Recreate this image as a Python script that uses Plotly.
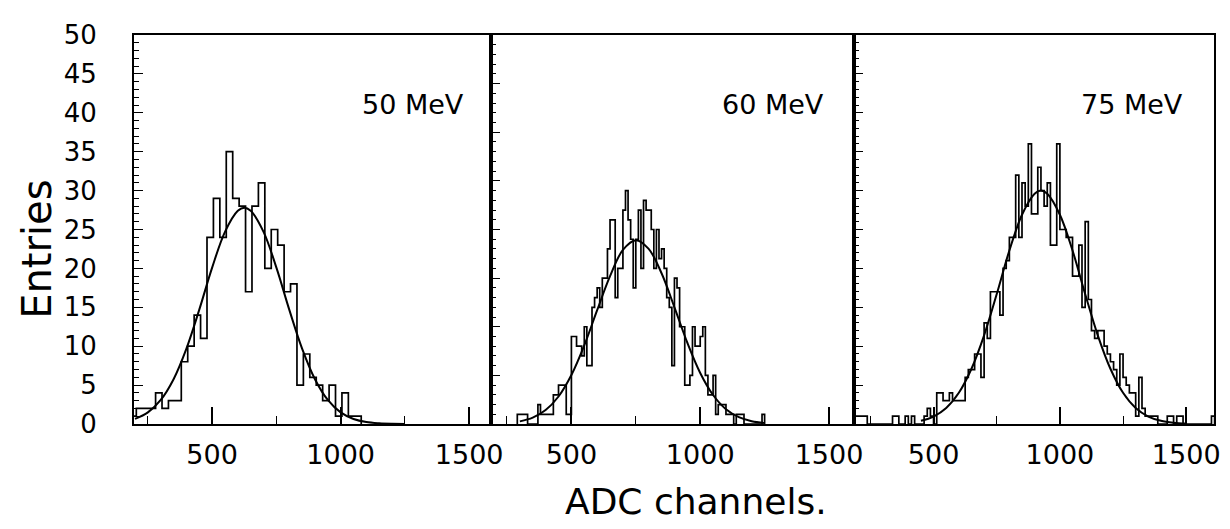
import plotly.graph_objects as go

# ---------------- data ----------------
# Panel 1 : 50 MeV  (bin width 25 ADC channels)
p1_start = 180
p1_width = 25
p1_counts = [1, 2, 2, 2, 4, 2, 3, 3, 8, 10, 14, 11, 24, 29, 24, 35, 29, 28, 17, 28,
             31, 20, 25, 23, 17, 18, 5, 9, 6, 5, 3, 5, 1, 4, 1, 1]
fit1_x = [200, 250, 300, 350, 400, 450, 500, 550, 600, 625, 650, 700, 750, 800, 850,
          900, 950, 1000, 1050, 1100, 1150, 1200, 1250]
fit1_y = [0.65, 1.49, 3.09, 5.76, 9.69, 14.7, 20.1, 24.7, 27.4, 27.8, 27.4, 24.7, 20.1,
          14.7, 9.69, 5.76, 3.09, 1.49, 0.65, 0.25, 0.09, 0.03, 0.01]

# Panel 2 : 60 MeV  (bin width 10 ADC channels, own y scale 0-40)
p2_start = 290
p2_width = 10
p2_counts = [1, 1, 1, 1, 0, 0, 0, 0, 2, 1, 1, 1, 1, 1, 3, 3, 4, 4, 4, 1,
             1, 9, 9, 8, 8, 7, 10, 6, 6, 12, 13, 14, 12, 15, 15, 18, 21, 21, 13, 16,
             16, 22, 24, 21, 19, 14, 19, 22, 16, 23, 22, 22, 20, 16, 20, 17, 18, 16, 13, 12,
             6, 15, 14, 10, 10, 4, 4, 5, 10, 8, 8, 9, 10, 5, 3, 3, 5, 1, 2, 2,
             2, 1, 1, 1, 0, 1, 1, 1, 0, 0, 0, 0, 0, 0, 0, 1]
fit2_x = [300, 350, 400, 450, 500, 550, 600, 650, 700, 750, 800, 850, 900, 950, 1000,
          1050, 1100, 1150, 1200, 1250]
fit2_y = [0.27, 0.65, 1.43, 2.83, 5.04, 8.09, 11.7, 15.2, 17.9, 18.9, 18.0, 15.5, 12.0,
          8.36, 5.25, 2.98, 1.52, 0.70, 0.29, 0.11]

# Panel 3 : 75 MeV  (bin width 12.5 ADC channels)
p3_start = 187.5
p3_width = 12.5
p3_counts = [1, 1, 1, 1, 0, 0, 0, 0, 0, 0, 0, 0, 1, 1, 0, 0, 1, 0, 1, 0,
             0, 0, 1, 2, 1, 0, 4, 4, 3, 3, 4, 3, 3, 3, 3, 6, 7, 7, 9, 9,
             6, 13, 11, 17, 17, 17, 14, 20, 21, 24, 24, 32, 24, 31, 28, 36, 27, 27, 33, 30,
             28, 31, 23, 23, 36, 25, 25, 24, 24, 19, 19, 23, 15, 26, 16, 12, 11, 12, 12, 10,
             9, 8, 7, 5, 9, 6, 5, 4, 4, 1, 6, 2, 1, 1, 1, 1, 0, 0, 0, 1,
             1, 0, 1, 1, 0, 0, 0, 0, 0, 0, 0, 0, 0, 1]
fit3_x = [450, 500, 550, 600, 650, 700, 750, 800, 850, 900, 925, 950, 1000, 1050, 1100,
          1150, 1200, 1250, 1300, 1350, 1400, 1450, 1500]
fit3_y = [0.41, 0.96, 2.06, 4.01, 7.10, 11.4, 16.7, 22.3, 26.9, 29.6, 30.0, 29.6, 26.9,
          22.3, 16.7, 11.4, 7.10, 4.01, 2.06, 0.96, 0.41, 0.16, 0.05]

labels = ["50 MeV", "60 MeV", "75 MeV"]
x_ticks = [500, 1000, 1500]
x_tick_text = ["500", "1000", "1500"]
x_minor = [250, 750, 1250]


def outline(start, width, counts):
    xs, ys = [start], [0]
    for i, c in enumerate(counts):
        left = start + i * width
        xs += [left, left + width]
        ys += [c, c]
    xs.append(start + len(counts) * width)
    ys.append(0)
    return xs, ys


FONT = "DejaVu Sans"
fig = go.Figure()

panels = [
    (p1_start, p1_width, p1_counts, fit1_x, fit1_y, "x", "y"),
    (p2_start, p2_width, p2_counts, fit2_x, fit2_y, "x2", "y2"),
    (p3_start, p3_width, p3_counts, fit3_x, fit3_y, "x3", "y3"),
]
for st, w, cnt, fx, fy, xa, ya in panels:
    hx, hy = outline(st, w, cnt)
    fig.add_trace(go.Scatter(x=hx, y=hy, mode="lines", xaxis=xa, yaxis=ya,
                             line=dict(color="black", width=1.7), showlegend=False,
                             hoverinfo="skip"))
    fig.add_trace(go.Scatter(x=fx, y=fy, mode="lines", xaxis=xa, yaxis=ya,
                             line=dict(color="black", width=2, shape="spline"),
                             showlegend=False, hoverinfo="skip"))

d1 = 359 / 1086
d2 = 724 / 1086
x_ranges = [[196, 1585], [188, 1597], [185, 1610]]
domains = [[0, d1], [d1, d2], [d2, 1.0]]
y_ranges = [[0, 50], [0, 40], [0, 50]]

common_x = dict(showline=True, linecolor="black", linewidth=2, mirror=True,
                ticks="inside", ticklen=17, tickwidth=1.5, tickcolor="black",
                tickvals=x_ticks, ticktext=x_tick_text, showgrid=False, zeroline=False,
                tickfont=dict(family=FONT, size=27, color="black"),
                ticklabelstandoff=6,
                minor=dict(tickvals=x_minor, ticks="inside", ticklen=8,
                           tickwidth=1.2, tickcolor="black", showgrid=False))
common_y = dict(showline=True, linecolor="black", linewidth=2, mirror=True,
                ticks="inside", ticklen=9, tickwidth=1.3, tickcolor="black",
                tick0=0, dtick=5, showgrid=False, zeroline=False,
                minor=dict(dtick=1, ticks="inside", ticklen=5, tickwidth=1,
                           tickcolor="black", showgrid=False))

layout = dict(
    width=1230, height=529,
    margin=dict(l=126, r=18, t=18, b=113),
    paper_bgcolor="white", plot_bgcolor="white",
    font=dict(family=FONT, color="black"),
    showlegend=False,
)
names_x = ["xaxis", "xaxis2", "xaxis3"]
names_y = ["yaxis", "yaxis2", "yaxis3"]
anchors_y = ["y", "y2", "y3"]
anchors_x = ["x", "x2", "x3"]
for i in range(3):
    layout[names_x[i]] = dict(common_x, domain=domains[i], range=x_ranges[i],
                              anchor=anchors_y[i])
    ydict = dict(common_y, domain=[0, 1], range=y_ranges[i], anchor=anchors_x[i],
                 showticklabels=(i == 0))
    if i == 0:
        ydict.update(tickfont=dict(family=FONT, size=26, color="black"),
                     ticklabelstandoff=30)
    layout[names_y[i]] = ydict

fig.update_layout(**layout)

label_x = [0.930, 0.923, 0.920]
for i in range(3):
    xr = "x domain" if i == 0 else f"x{i+1} domain"
    yr = "y domain" if i == 0 else f"y{i+1} domain"
    fig.add_annotation(text=labels[i], xref=xr, yref=yr, x=label_x[i], y=0.822,
                       xanchor="right", yanchor="middle", showarrow=False,
                       font=dict(family=FONT, size=27, color="black"))

fig.add_annotation(text="ADC channels.", xref="paper", yref="paper",
                   x=0.52, y=-0.198, xanchor="center", yanchor="middle",
                   showarrow=False, font=dict(family=FONT, size=36, color="black"))
fig.add_annotation(text="Entries", xref="paper", yref="paper",
                   x=-0.09, y=0.45, xanchor="center", yanchor="middle", textangle=-90,
                   showarrow=False, font=dict(family=FONT, size=40, color="black"))

fig.write_html("out.html")
